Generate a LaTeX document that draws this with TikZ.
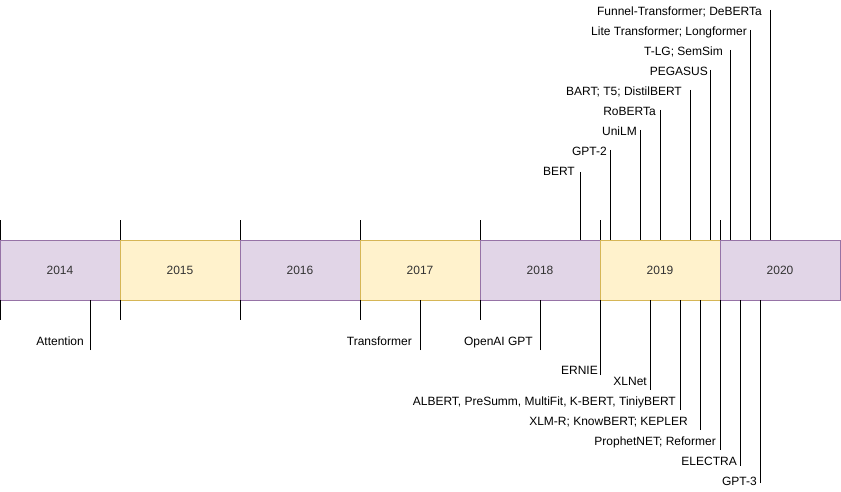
\documentclass[tikz,border=0pt]{standalone}
\usepackage{fontspec}
\setmainfont{Liberation Sans}
\definecolor{pfill}{HTML}{E1D5E7}
\definecolor{pstroke}{HTML}{9673A6}
\definecolor{yfill}{HTML}{FFF2CC}
\definecolor{ystroke}{HTML}{D6B656}
\definecolor{textgray}{HTML}{333333}
\begin{document}
\begin{tikzpicture}[x=1pt,y=-1pt,
  yearbox/.style={rectangle, minimum width=120pt, minimum height=60pt, outer sep=0pt, inner sep=0pt, line width=0.8pt, font=\fontsize{12}{14}\selectfont, text=textgray},
  purplebox/.style={yearbox, draw=pstroke, fill=pfill},
  yellowbox/.style={yearbox, draw=ystroke, fill=yfill},
  lbl/.style={anchor=base east, inner sep=0pt, font=\fontsize{12}{14}\selectfont},
  conn/.style={draw=black, line width=0.8pt},
]
\useasboundingbox (0,0) rectangle (841,492);

% year boxes
\node[purplebox] (y2014) at (60,270) {2014};
\node[yellowbox] (y2015) at (180,270) {2015};
\node[purplebox] (y2016) at (300,270) {2016};
\node[yellowbox] (y2017) at (420,270) {2017};
\node[purplebox] (y2018) at (540,270) {2018};
\node[yellowbox] (y2019) at (660,270) {2019};
\node[purplebox] (y2020) at (780,270) {2020};

% ticks above
\draw[conn] (y2014.north west) -- ++(0,-20);
\draw[conn] (y2015.north west) -- ++(0,-20);
\draw[conn] (y2016.north west) -- ++(0,-20);
\draw[conn] (y2017.north west) -- ++(0,-20);
\draw[conn] (y2018.north west) -- ++(0,-20);
\draw[conn] (y2019.north west) -- ++(0,-20);
\draw[conn] (y2020.north west) -- ++(0,-20);
% ticks below
\draw[conn] (y2014.south west) -- ++(0,20);
\draw[conn] (y2015.south west) -- ++(0,20);
\draw[conn] (y2016.south west) -- ++(0,20);
\draw[conn] (y2017.south west) -- ++(0,20);
\draw[conn] (y2018.south west) -- ++(0,20);

% top events
\coordinate (cBERT) at (580,172);
\draw[conn] (cBERT) -- (cBERT |- y2018.north);
\node[lbl] (lBERT) at (575,175.3) {BERT};

\coordinate (cGPTtwo) at (610,150);
\draw[conn] (cGPTtwo) -- (cGPTtwo |- y2019.north);
\node[lbl] (lGPTtwo) at (607,155.3) {GPT-2};

\coordinate (cUniLM) at (640,130);
\draw[conn] (cUniLM) -- (cUniLM |- y2019.north);
\node[lbl] (lUniLM) at (637,135.3) {UniLM};

\coordinate (cRoBERTa) at (660,110);
\draw[conn] (cRoBERTa) -- (cRoBERTa |- y2019.north);
\node[lbl] (lRoBERTa) at (656,115.3) {RoBERTa};

\coordinate (cBART) at (690,90);
\draw[conn] (cBART) -- (cBART |- y2019.north);
\node[lbl] (lBART) at (682,95.3) {BART; T5; DistilBERT};

\coordinate (cPEGASUS) at (710,70);
\draw[conn] (cPEGASUS) -- (cPEGASUS |- y2019.north);
\node[lbl] (lPEGASUS) at (708,75.3) {PEGASUS};

\coordinate (cTLG) at (730,50);
\draw[conn] (cTLG) -- (cTLG |- y2020.north);
\node[lbl] (lTLG) at (723,55.3) {T-LG; SemSim};

\coordinate (cLite) at (750,30);
\draw[conn] (cLite) -- (cLite |- y2020.north);
\node[lbl] (lLite) at (747,35.3) {Lite Transformer; Longformer};

\coordinate (cFunnel) at (770,10);
\draw[conn] (cFunnel) -- (cFunnel |- y2020.north);
\node[lbl] (lFunnel) at (762,15.3) {Funnel-Transformer; DeBERTa};

% bottom events
\coordinate (cAttention) at (90,350);
\draw[conn] (cAttention) -- (cAttention |- y2014.south);
\node[lbl] (lAttention) at (84,345.3) {Attention};

\coordinate (cTransformer) at (420,350);
\draw[conn] (cTransformer) -- (cTransformer |- y2017.south);
\node[lbl] (lTransformer) at (412,345.3) {Transformer};

\coordinate (cOpenAI) at (540,350);
\draw[conn] (cOpenAI) -- (cOpenAI |- y2018.south);
\node[lbl] (lOpenAI) at (533,345.3) {OpenAI GPT};

\coordinate (cERNIE) at (600,375);
\draw[conn] (cERNIE) -- (cERNIE |- y2019.south);
\node[lbl] (lERNIE) at (598,374.3) {ERNIE};

\coordinate (cXLNet) at (650,390);
\draw[conn] (cXLNet) -- (cXLNet |- y2019.south);
\node[lbl] (lXLNet) at (647,385.3) {XLNet};

\coordinate (cALBERT) at (680,410);
\draw[conn] (cALBERT) -- (cALBERT |- y2019.south);
\node[lbl] (lALBERT) at (676,405.3) {ALBERT, PreSumm, MultiFit, K-BERT, TiniyBERT};

\coordinate (cXLMR) at (700,430);
\draw[conn] (cXLMR) -- (cXLMR |- y2019.south);
\node[lbl] (lXLMR) at (688,425.3) {XLM-R; KnowBERT; KEPLER};

\coordinate (cProphet) at (720,450);
\draw[conn] (cProphet) -- (cProphet |- y2019.south);
\node[lbl] (lProphet) at (716,445.3) {ProphetNET; Reformer};

\coordinate (cELECTRA) at (740,466);
\draw[conn] (cELECTRA) -- (cELECTRA |- y2020.south);
\node[lbl] (lELECTRA) at (737,465.3) {ELECTRA};

\coordinate (cGPTthree) at (760,483);
\draw[conn] (cGPTthree) -- (cGPTthree |- y2020.south);
\node[lbl] (lGPTthree) at (757,485.3) {GPT-3};
\end{tikzpicture}
\end{document}
